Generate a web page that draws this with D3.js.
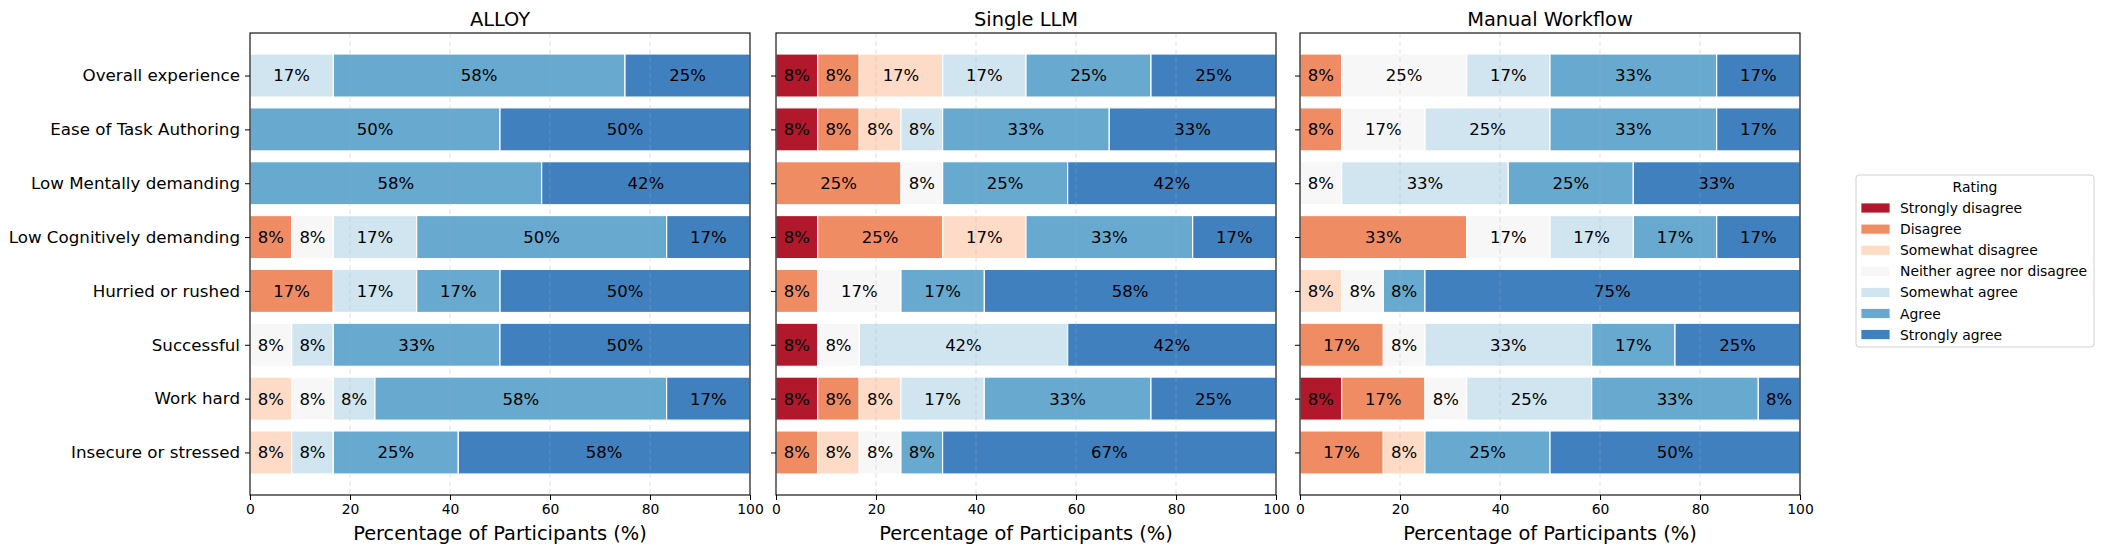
<!DOCTYPE html>
<html>
<head>
<meta charset="UTF-8">
<title>Likert responses</title>
<script src="https://d3js.org/d3.v7.min.js"></script>
<style>
  body { margin: 0; background: #fff; }
  svg { font-family: "DejaVu Sans", sans-serif; }
</style>
</head>
<body>
<script>
// questions, top to bottom
var questions = ["Overall experience", "Ease of Task Authoring", "Low Mentally demanding",
  "Low Cognitively demanding", "Hurried or rushed", "Successful", "Work hard", "Insecure or stressed"];

var ratings = ["Strongly disagree", "Disagree", "Somewhat disagree", "Neither agree nor disagree",
  "Somewhat agree", "Agree", "Strongly agree"];

var ratingColors = ["#b2182b", "#f08c64", "#fddbc7", "#f7f7f7", "#d1e5f0", "#67a9cf", "#4080bf"];

var panelTitles = ["ALLOY", "Single LLM", "Manual Workflow"];

var xTicks = [0, 20, 40, 60, 80, 100];

// percent of participants per rating, one row per question
var alloy = [
  [0, 0, 0, 0, 16.67, 58.33, 25.0],
  [0, 0, 0, 0, 0, 50.0, 50.0],
  [0, 0, 0, 0, 0, 58.33, 41.67],
  [0, 8.33, 0, 8.33, 16.67, 50.0, 16.67],
  [0, 16.67, 0, 0, 16.67, 16.67, 50.0],
  [0, 0, 0, 8.33, 8.33, 33.33, 50.0],
  [0, 0, 8.33, 8.33, 8.33, 58.33, 16.67],
  [0, 0, 8.33, 0, 8.33, 25.0, 58.33]
];

var singleLLM = [
  [8.33, 8.33, 16.67, 0, 16.67, 25.0, 25.0],
  [8.33, 8.33, 8.33, 0, 8.33, 33.33, 33.33],
  [0, 25.0, 0, 8.33, 0, 25.0, 41.67],
  [8.33, 25.0, 16.67, 0, 0, 33.33, 16.67],
  [0, 8.33, 0, 16.67, 0, 16.67, 58.33],
  [8.33, 0, 0, 8.33, 41.67, 0, 41.67],
  [8.33, 8.33, 8.33, 0, 16.67, 33.33, 25.0],
  [0, 8.33, 8.33, 8.33, 0, 8.33, 66.67]
];

var manualWorkflow = [
  [0, 8.33, 0, 25.0, 16.67, 33.33, 16.67],
  [0, 8.33, 0, 16.67, 25.0, 33.33, 16.67],
  [0, 0, 0, 8.33, 33.33, 25.0, 33.33],
  [0, 33.33, 0, 16.67, 16.67, 16.67, 16.67],
  [0, 0, 8.33, 8.33, 0, 8.33, 75.0],
  [0, 16.67, 0, 8.33, 33.33, 16.67, 25.0],
  [8.33, 16.67, 0, 8.33, 25.0, 33.33, 8.33],
  [0, 16.67, 8.33, 0, 0, 25.0, 50.0]
];

var panels = [alloy, singleLLM, manualWorkflow];

var width = 2102, height = 553;
var panelLeft = [250, 776, 1300];
var panelWidth = 500;
var plotTop = 33, plotBottom = 495;

var svg = d3.select("body").append("svg")
  .attr("width", width).attr("height", height);

// y: question index, matplotlib-like margins around bars of height 0.8
var yScale = d3.scaleLinear()
  .domain([-0.79, questions.length - 1 + 0.79])
  .range([plotTop, plotBottom]);
var barH = yScale(0.4) - yScale(-0.4);

panels.forEach(function(data, p) {
  var x0 = panelLeft[p];
  var xScale = d3.scaleLinear().domain([0, 100]).range([x0, x0 + panelWidth]);

  var g = svg.append("g");

  // stacked segments
  data.forEach(function(row, qi) {
    var segs = [];
    var acc = 0;
    row.forEach(function(v, ri) {
      if (v > 0) segs.push({ start: acc, end: Math.min(acc + v, 100), v: v, r: ri });
      acc += v;
    });

    var rowG = g.append("g");
    rowG.selectAll("rect").data(segs).enter().append("rect")
      .attr("x", function(d) { return xScale(d.start); })
      .attr("y", yScale(qi) - barH / 2)
      .attr("width", function(d) { return xScale(d.end) - xScale(d.start); })
      .attr("height", barH)
      .attr("fill", function(d) { return ratingColors[d.r]; })
      .attr("stroke", "#fff")
      .attr("stroke-width", 1.2);

    rowG.selectAll("text").data(segs).enter().append("text")
      .attr("x", function(d) { return (xScale(d.start) + xScale(d.end)) / 2; })
      .attr("y", yScale(qi))
      .attr("dy", "0.36em")
      .attr("text-anchor", "middle")
      .style("font-size", "16.5px")
      .attr("fill", "#000")
      .text(function(d) { return Math.round(d.v) + "%"; });
  });

  // dashed grid over the bars
  g.selectAll(".grid").data(xTicks.slice(1, -1)).enter().append("line")
    .attr("x1", function(d) { return xScale(d); })
    .attr("x2", function(d) { return xScale(d); })
    .attr("y1", plotTop).attr("y2", plotBottom)
    .attr("stroke", "#b0b0b0")
    .attr("stroke-opacity", 0.35)
    .attr("stroke-dasharray", "5,3")
    .attr("stroke-width", 1);

  // frame
  g.append("rect")
    .attr("x", x0).attr("y", plotTop)
    .attr("width", panelWidth).attr("height", plotBottom - plotTop)
    .attr("fill", "none").attr("stroke", "#000").attr("stroke-width", 1.1);

  // x axis
  var xAxis = d3.axisBottom(xScale).tickValues(xTicks).tickSize(5).tickPadding(4);
  var xg = svg.append("g").attr("transform", "translate(0," + plotBottom + ")").call(xAxis);
  xg.select(".domain").remove();
  xg.selectAll("text").style("font-size", "13.9px").style("font-family", "DejaVu Sans");

  // y axis (labels only on the first panel)
  var yAxis = d3.axisLeft(yScale)
    .tickValues(d3.range(questions.length))
    .tickSize(5).tickPadding(5)
    .tickFormat(function(i) { return p === 0 ? questions[i] : ""; });
  var yg = svg.append("g").attr("transform", "translate(" + x0 + ",0)").call(yAxis);
  yg.select(".domain").remove();
  yg.selectAll("text").style("font-size", "16.7px").style("font-family", "DejaVu Sans").attr("fill", "#000");

  // title + x label
  svg.append("text")
    .attr("x", x0 + panelWidth / 2).attr("y", 26)
    .attr("text-anchor", "middle")
    .style("font-size", "19.4px")
    .text(panelTitles[p]);

  svg.append("text")
    .attr("x", x0 + panelWidth / 2).attr("y", 540)
    .attr("text-anchor", "middle")
    .style("font-size", "19.4px")
    .text("Percentage of Participants (%)");
});

// legend
var lg = svg.append("g").attr("transform", "translate(1856,175)");
lg.append("rect")
  .attr("width", 238).attr("height", 172)
  .attr("rx", 3).attr("ry", 3)
  .attr("fill", "#fff").attr("stroke", "#d0d0d0").attr("stroke-width", 1);
lg.append("text")
  .attr("x", 119).attr("y", 12).attr("dy", "0.36em").attr("text-anchor", "middle")
  .style("font-size", "13.9px")
  .text("Rating");
var items = lg.selectAll(".item").data(ratings).enter().append("g")
  .attr("transform", function(d, i) { return "translate(0," + (33 + i * 21.1) + ")"; });
items.append("rect")
  .attr("x", 5).attr("y", -5).attr("width", 29).attr("height", 10)
  .attr("fill", function(d, i) { return ratingColors[i]; })
  .attr("stroke", "#fff").attr("stroke-width", 0.8);
items.append("text")
  .attr("x", 44).attr("y", 0).attr("dy", "0.36em")
  .style("font-size", "13.9px")
  .text(function(d) { return d; });
</script>
</body>
</html>
